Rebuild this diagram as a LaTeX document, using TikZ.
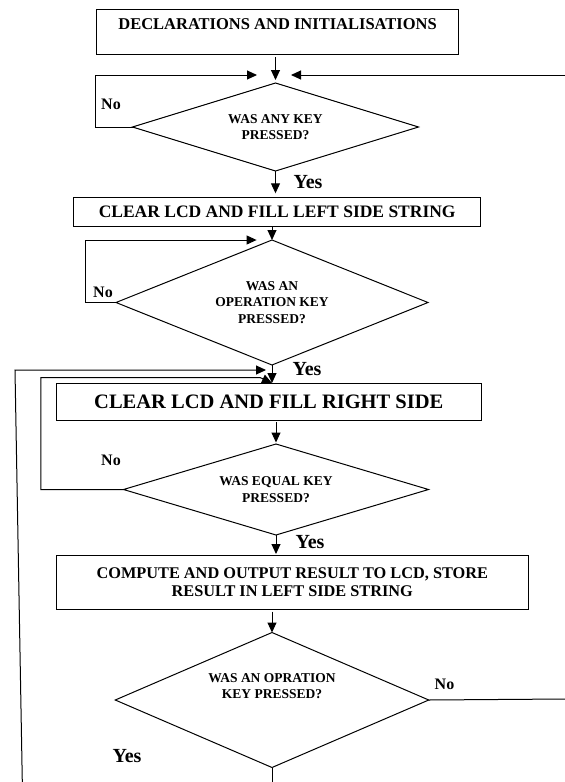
\documentclass[tikz,border=0pt]{standalone}
\usepackage{fontspec}
\setmainfont{Liberation Serif}
\usetikzlibrary{shapes.geometric,arrows.meta}

\tikzset{
  procbox/.style={draw, rectangle, line width=1pt, outer sep=0pt, font=\bfseries, align=center},
  decision/.style={draw, diamond, line width=1pt, outer sep=0pt, inner sep=0pt,
    font=\bfseries\fontsize{13.5}{16.5}\selectfont, align=center},
  flow/.style={line width=1pt, -{Triangle[length=10pt,width=9pt]}},
  link/.style={line width=1pt},
  nolabel/.style={font=\bfseries\fontsize{16}{18}\selectfont},
  yeslabel/.style={font=\bfseries\fontsize{20}{22}\selectfont}
}

\begin{document}
\begin{tikzpicture}[x=1pt, y=-1pt]
\useasboundingbox (0,0) rectangle (565,782);

% ---- boxes ----
\node (init) [procbox, minimum width=362pt, minimum height=45pt, text depth=14pt,
  font=\bfseries\fontsize{16.5}{19}\selectfont] at (277.6,31.5) {DECLARATIONS AND INITIALISATIONS};
\node (leftstr) [procbox, minimum width=406.5pt, minimum height=29.4pt,
  font=\bfseries\fontsize{17.5}{20}\selectfont] at (277.2,212) {CLEAR LCD AND FILL LEFT SIDE STRING};
\node (rightside) [procbox, minimum width=424.4pt, minimum height=37pt,
  font=\bfseries\fontsize{20.5}{23}\selectfont] at (268.8,401.5) {CLEAR LCD AND FILL RIGHT SIDE};
\node (compute) [procbox, minimum width=471.4pt, minimum height=54pt,
  font=\bfseries\fontsize{16.3}{18.3}\selectfont] at (292.3,582)
  {COMPUTE AND OUTPUT RESULT TO LCD, STORE\\RESULT IN LEFT SIDE STRING};

% ---- decisions ----
\node (anykey) [decision, shape aspect=3.25, minimum width=286pt, minimum height=88pt]
  at (275.5,127) {WAS ANY KEY\\PRESSED?};
\node (opkey) [decision, shape aspect=2.5, minimum width=312pt, minimum height=125pt]
  at (272,302.5) {WAS AN\\OPERATION KEY\\PRESSED?};
\node (eqkey) [decision, shape aspect=3.35, minimum width=305pt, minimum height=91pt]
  at (276,489.5) {WAS EQUAL KEY\\PRESSED?};
\node (nextop) [decision, shape aspect=2.32, minimum width=313.5pt, minimum height=135pt,
  label={[decision, draw=none, yshift=14pt]center:WAS AN OPRATION\\KEY PRESSED?}]
  at (272,700) {};

% free ends at the picture's edges
\coordinate (ret1) at (565,75);
\coordinate (exitright) at (565,699);
\coordinate (bottomleft) at (22.3,782);
\coordinate (upleft) at (15,370);

% ---- connectors ----
\draw[flow] ([yshift=-3pt]init.south -| anykey.north) -- ([yshift=3pt]anykey.north);
\draw[flow] (anykey.west) -- ++(-37.5,0) |- ([xshift=-18.5pt,yshift=8pt]anykey.north);
\draw[flow] (ret1) -- ([xshift=15.5pt,yshift=8pt]anykey.north);
\draw[flow] (anykey.south) -- ([yshift=4pt]leftstr.north -| anykey.south);

\draw[flow] (leftstr.south -| opkey.north) -- (opkey.north);
\draw[flow] (opkey.west) -- ++(-30.5,0) |- ([xshift=-15.4pt]opkey.north);
\draw[flow] (opkey.south) -- (rightside.north -| opkey.south);

\draw[flow] (eqkey.west) -- ++(-82.6,0) |- ([xshift=-12pt,yshift=5.5pt]opkey.south |- rightside.north)
  -- (opkey.south |- rightside.north);
\draw[flow] (bottomleft) -- (upleft) -- ([xshift=-6pt,yshift=-5pt]opkey.south);

\draw[flow] ([yshift=-2pt]rightside.south -| eqkey.north) -- ([yshift=1.5pt]eqkey.north);
\draw[flow] (eqkey.south) -- ([yshift=1pt]compute.north -| eqkey.south);
\draw[flow] ([yshift=-2.7pt]compute.south -| nextop.north) -- (nextop.north);

\draw[link] (nextop.east) -- (exitright);
\draw[link] (nextop.south) -- (nextop.south |- bottomleft);

% ---- answers ----
\node (no1) [nolabel] at (111,104) {No};
\node (yes1) [yeslabel] at (308,182) {Yes};
\node (no2) [nolabel] at (103,292) {No};
\node (yes2) [yeslabel] at (307,369) {Yes};
\node (no3) [nolabel] at (111,460) {No};
\node (yes3) [yeslabel] at (310,542) {Yes};
\node (no4) [nolabel] at (444.5,684) {No};
\node (yes4) [yeslabel] at (127,756) {Yes};

\end{tikzpicture}
\end{document}
